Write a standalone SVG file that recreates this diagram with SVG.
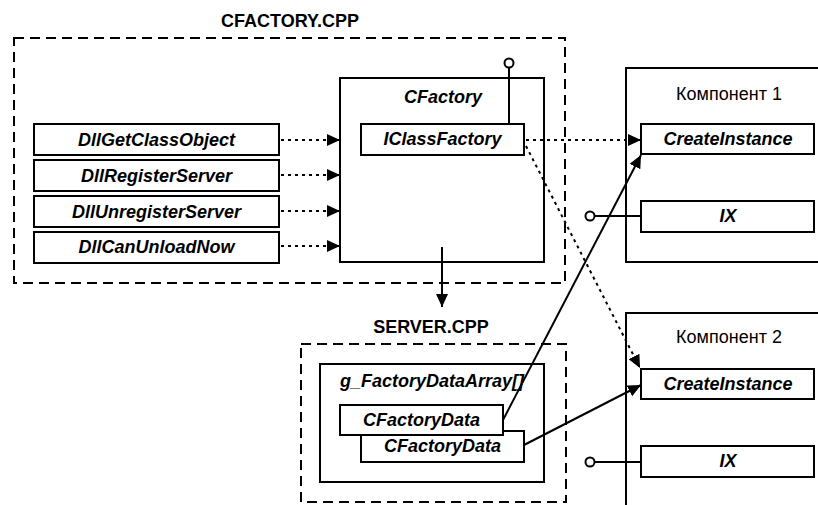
<svg xmlns="http://www.w3.org/2000/svg" width="818" height="505" viewBox="0 0 818 505">
<style>
.box{fill:#fff;stroke:#000;stroke-width:2}
.dash{fill:none;stroke:#000;stroke-width:2;stroke-dasharray:10,6}
.dot{fill:none;stroke:#000;stroke-width:2;stroke-dasharray:3,4}
.ln{fill:none;stroke:#000;stroke-width:2}
.lol{fill:#fff;stroke:#000;stroke-width:2}
text{font-family:"Liberation Sans",Arial,sans-serif;font-size:18px;text-anchor:middle;fill:#000}
.bi{font-weight:bold;font-style:italic}
.b{font-weight:bold}
</style>
<defs>
<marker id="ah" markerUnits="userSpaceOnUse" markerWidth="13" markerHeight="12" refX="13" refY="6" orient="auto">
<path d="M0,0 L13,6 L0,12 z" fill="#000"/>
</marker>
</defs>

<g id="cfactory-cpp">
<rect class="dash" x="14" y="38" width="551" height="245"/>
<text class="b" x="290" y="27">CFACTORY.CPP</text>
</g>

<g id="server-cpp">
<rect class="dash" x="301" y="344" width="265" height="158"/>
<text class="b" x="431" y="333">SERVER.CPP</text>
</g>

<g id="DllGetClassObject">
<rect class="box" x="34" y="124" width="245" height="31"/>
<text class="bi" x="156.5" y="146">DllGetClassObject</text>
</g>
<g id="DllRegisterServer">
<rect class="box" x="34" y="160" width="245" height="31"/>
<text class="bi" x="156.5" y="182">DllRegisterServer</text>
</g>
<g id="DllUnregisterServer">
<rect class="box" x="34" y="196" width="245" height="31"/>
<text class="bi" x="156.5" y="218">DllUnregisterServer</text>
</g>
<g id="DllCanUnloadNow">
<rect class="box" x="34" y="232" width="245" height="31"/>
<text class="bi" x="156.5" y="253">DllCanUnloadNow</text>
</g>

<g id="CFactory">
<rect class="box" x="340" y="78" width="204" height="184"/>
<text class="bi" x="443" y="103">CFactory</text>
</g>
<g id="IClassFactory">
<line class="ln" x1="509" y1="124" x2="509" y2="68"/>
<circle class="lol" cx="509" cy="63" r="4.5"/>
<rect class="box" x="361" y="124" width="163" height="31"/>
<text class="bi" x="442.5" y="145">IClassFactory</text>
</g>

<g id="komponent1">
<rect class="box" x="626" y="68" width="210" height="194"/>
<text x="729" y="100">Компонент 1</text>
</g>
<g id="CreateInstance1">
<rect class="box" x="641" y="124" width="173" height="30"/>
<text class="bi" x="728" y="145">CreateInstance</text>
</g>
<g id="IX1">
<line class="ln" x1="641" y1="216" x2="595" y2="216"/>
<circle class="lol" cx="590" cy="216" r="4.5"/>
<rect class="box" x="641" y="201" width="173" height="31"/>
<text class="bi" x="728" y="222">IX</text>
</g>

<g id="komponent2">
<rect class="box" x="626" y="313" width="210" height="210"/>
<text x="729" y="343">Компонент 2</text>
</g>
<g id="CreateInstance2">
<rect class="box" x="641" y="369" width="173" height="30"/>
<text class="bi" x="728" y="390">CreateInstance</text>
</g>
<g id="IX2">
<line class="ln" x1="641" y1="462" x2="595" y2="462"/>
<circle class="lol" cx="590" cy="462" r="4.5"/>
<rect class="box" x="641" y="446" width="173" height="31"/>
<text class="bi" x="728" y="467">IX</text>
</g>

<g id="g_FactoryDataArray">
<rect class="box" x="320" y="364" width="224" height="118"/>
<text class="bi" x="432" y="387">g_FactoryDataArray[]</text>
</g>
<g id="CFactoryData2">
<rect class="box" x="361" y="431" width="163" height="31"/>
<text class="bi" x="442.5" y="452">CFactoryData</text>
</g>
<g id="CFactoryData1">
<rect class="box" x="340" y="405" width="163" height="30"/>
<text class="bi" x="421.5" y="426">CFactoryData</text>
</g>

<g id="connectors">
<line class="dot" x1="281" y1="140" x2="340" y2="140" marker-end="url(#ah)"/>
<line class="dot" x1="281" y1="175" x2="340" y2="175" marker-end="url(#ah)"/>
<line class="dot" x1="281" y1="211" x2="340" y2="211" marker-end="url(#ah)"/>
<line class="dot" x1="281" y1="246" x2="340" y2="246" marker-end="url(#ah)"/>
<line class="dot" x1="526" y1="140" x2="641" y2="140" marker-end="url(#ah)"/>
<line class="dot" x1="526" y1="146" x2="640" y2="368" marker-end="url(#ah)"/>
<line class="ln" x1="442" y1="247" x2="442" y2="307" marker-end="url(#ah)"/>
<line class="ln" x1="503" y1="420" x2="641" y2="155" marker-end="url(#ah)"/>
<line class="ln" x1="524" y1="445" x2="641" y2="385" marker-end="url(#ah)"/>
</g>
</svg>
